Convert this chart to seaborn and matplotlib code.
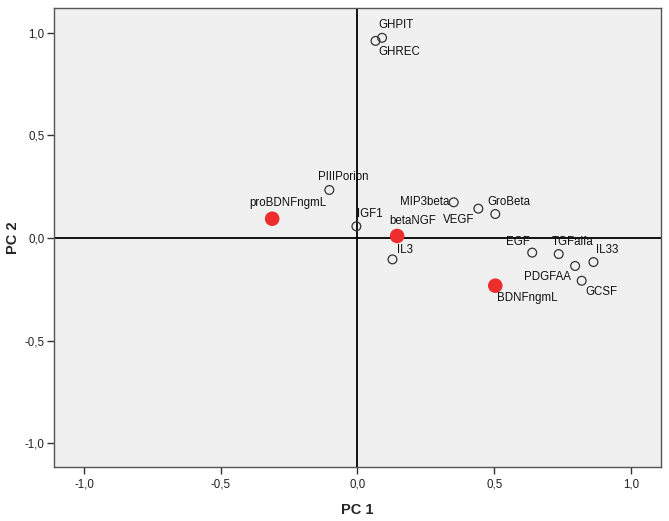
import matplotlib
matplotlib.use("Agg")
import matplotlib.pyplot as plt
import seaborn as sns
import pandas as pd

# Data
names = ["GHPIT", "GHREC", "PIIIPorion", "proBDNFngmL", "IGF1", "betaNGF", "IL3",
         "MIP3beta", "VEGF", "GroBeta", "EGF", "TGFalfa", "IL33", "PDGFAA", "GCSF", "BDNFngmL"]
pc1 = [0.090, 0.066, -0.103, -0.312, -0.004, 0.145, 0.128,
       0.352, 0.442, 0.504, 0.639, 0.736, 0.863, 0.796, 0.820, 0.504]
pc2 = [0.975, 0.960, 0.234, 0.094, 0.057, 0.010, -0.104,
       0.174, 0.143, 0.117, -0.071, -0.078, -0.117, -0.136, -0.208, -0.232]
kind = ["other", "other", "other", "highlight", "other", "highlight", "other",
        "other", "other", "other", "other", "other", "other", "other", "other", "highlight"]
tick_values = [-1.0, -0.5, 0.0, 0.5, 1.0]
tick_labels = ["-1,0", "-0,5", "0,0", "0,5", "1,0"]

# label offsets in points (dx, dy), text centred
offsets = {
    "GHPIT": (10, 9), "GHREC": (17, -8), "PIIIPorion": (10, 9), "proBDNFngmL": (11, 11),
    "IGF1": (10, 9), "betaNGF": (11, 11), "IL3": (9, 7), "MIP3beta": (-21, 0),
    "VEGF": (-14, -8), "GroBeta": (10, 9), "EGF": (-10, 8), "TGFalfa": (10, 9),
    "IL33": (10, 9), "PDGFAA": (-20, -8), "GCSF": (14, -8), "BDNFngmL": (23, -9),
}

df = pd.DataFrame({"name": names, "PC 1": pc1, "PC 2": pc2, "kind": kind})

sns.set_style("white")
plt.rcParams["font.family"] = ["Liberation Sans", "DejaVu Sans"]

fig = plt.figure(figsize=(6.69, 5.21), dpi=100)
ax = fig.add_axes([0.0807, 0.1036, 0.9073, 0.881])
ax.set_facecolor("#f0f0f0")

ax.axhline(0, color="black", lw=1.3, zorder=1)
ax.axvline(0, color="black", lw=1.3, zorder=1)

sns.scatterplot(data=df[df.kind == "other"], x="PC 1", y="PC 2", ax=ax,
                s=40, facecolor="none", edgecolor="#333333", linewidth=0.9, zorder=3)
sns.scatterplot(data=df[df.kind == "highlight"], x="PC 1", y="PC 2", ax=ax,
                s=110, color="#ee2d2d", edgecolor="none", zorder=3)

for n, x, y in zip(names, pc1, pc2):
    dx, dy = offsets[n]
    ax.annotate(n, (x, y), xytext=(dx, dy), textcoords="offset points",
                ha="center", va="center", fontsize=8.3, color="#111111", zorder=4)

ax.set_xlim(-1.11, 1.11)
ax.set_ylim(-1.115, 1.12)
ax.set_xticks(tick_values)
ax.set_xticklabels(tick_labels)
ax.set_yticks(tick_values)
ax.set_yticklabels(tick_labels)
ax.tick_params(axis="both", which="major", bottom=True, left=True, direction="out",
               length=5, width=1, color="#333333",
               labelsize=8.3, labelcolor="#222222", pad=2)
ax.tick_params(axis="x", pad=3)
for sp in ax.spines.values():
    sp.set_color("#555555")
    sp.set_linewidth(1)

ax.set_xlabel("PC 1", fontsize=10.5, fontweight="bold", labelpad=9)
ax.set_ylabel("PC 2", fontsize=10.5, fontweight="bold", labelpad=3)

fig.savefig("out.png", dpi=100)
